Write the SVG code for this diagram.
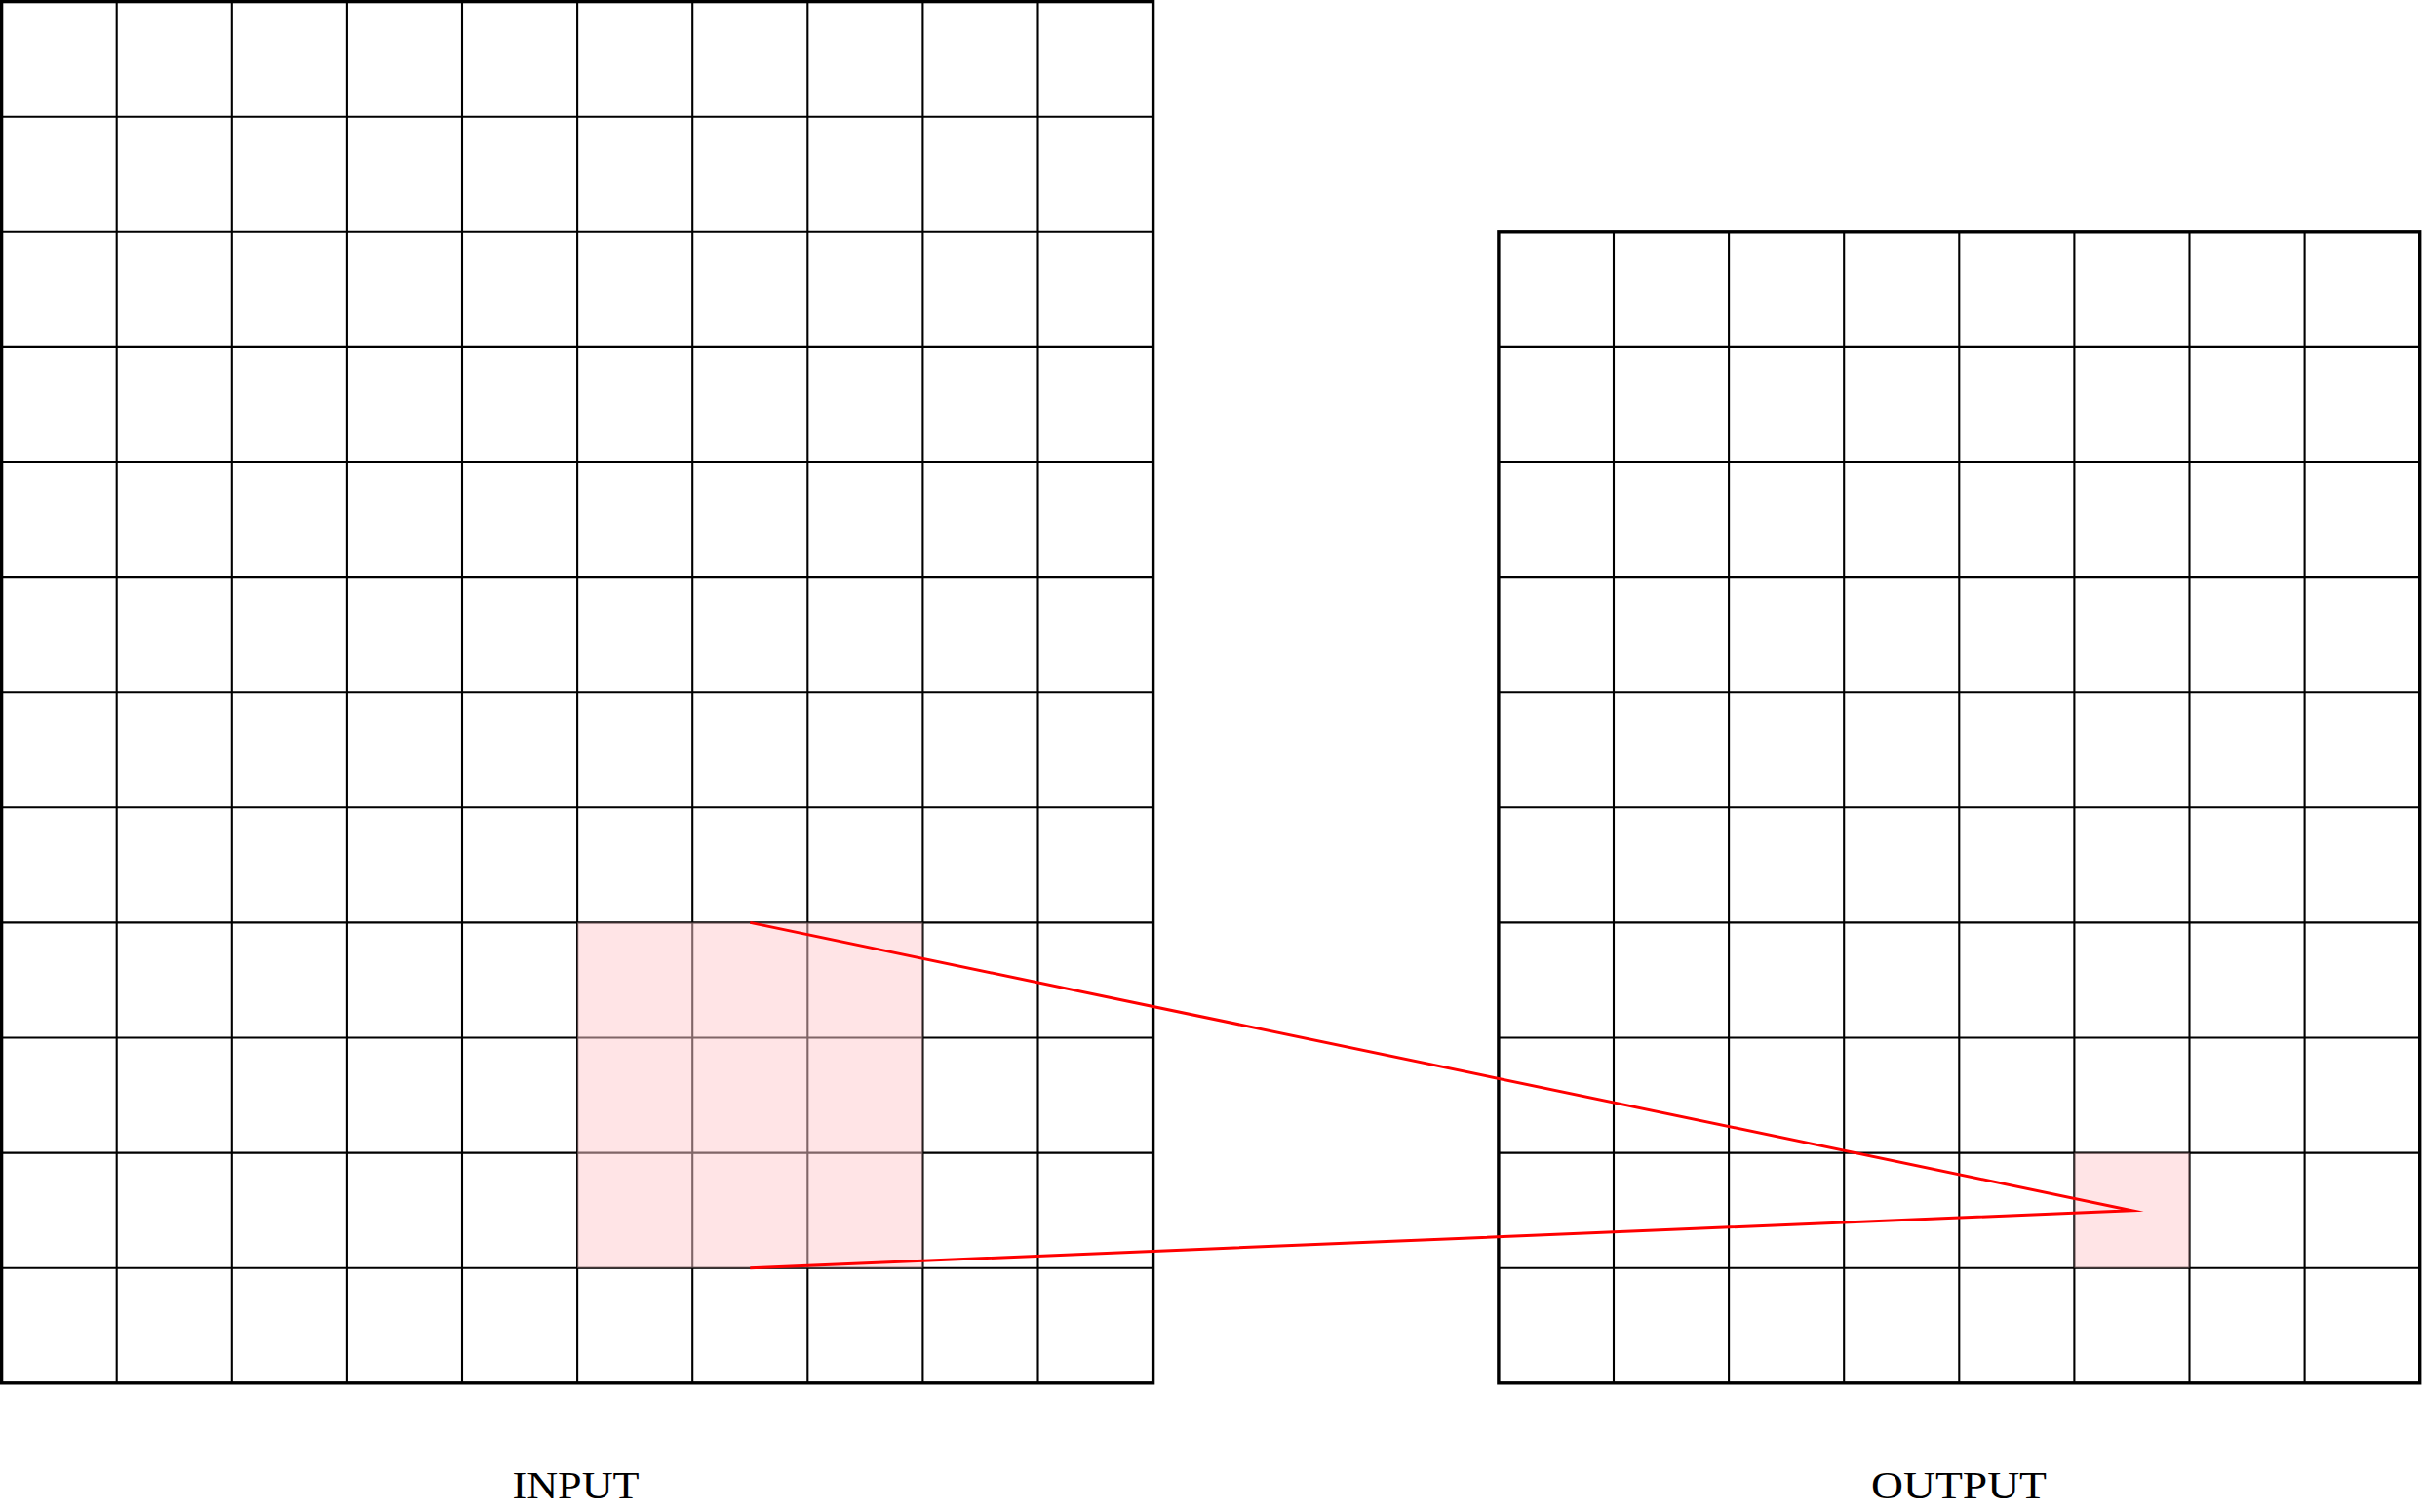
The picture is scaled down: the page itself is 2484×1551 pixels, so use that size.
<svg xmlns="http://www.w3.org/2000/svg" width="2484" height="1551" viewBox="0 0 2484 1551">
  <style>
    .grid { fill: none; stroke: #000; stroke-width: 2.1; }
    .frame { fill: none; stroke: #000; stroke-width: 3.4; }
    .hl { fill: #ffc9cd; fill-opacity: 0.5; stroke: #000; stroke-opacity: 0.25; stroke-width: 2.1; }
    .conn { fill: none; stroke: #ff0000; stroke-width: 3; stroke-linejoin: miter; stroke-miterlimit: 10; }
    .label { font-family: "Liberation Serif", "DejaVu Serif", serif; font-size: 41px; fill: #000; text-anchor: middle; }
  </style>
  <rect x="0" y="0" width="2484" height="1551" fill="#fff"/>

  <g id="input-grid">
    <path class="grid" d="M119.7 1.6V1418.8 M237.8 1.6V1418.8 M355.9 1.6V1418.8 M474 1.6V1418.8 M592.1 1.6V1418.8 M710.2 1.6V1418.8 M828.3 1.6V1418.8 M946.4 1.6V1418.8 M1064.5 1.6V1418.8
      M1.6 119.7H1182.6 M1.6 237.8H1182.6 M1.6 355.9H1182.6 M1.6 474H1182.6 M1.6 592.1H1182.6 M1.6 710.2H1182.6 M1.6 828.3H1182.6 M1.6 946.4H1182.6 M1.6 1064.5H1182.6 M1.6 1182.6H1182.6 M1.6 1300.7H1182.6"/>
    <rect class="frame" x="1.6" y="1.6" width="1181" height="1417.2"/>
  </g>

  <g id="output-grid">
    <path class="grid" d="M1655 237.8V1418.8 M1773.1 237.8V1418.8 M1891.2 237.8V1418.8 M2009.3 237.8V1418.8 M2127.4 237.8V1418.8 M2245.5 237.8V1418.8 M2363.6 237.8V1418.8
      M1536.9 355.9H2481.7 M1536.9 474H2481.7 M1536.9 592.1H2481.7 M1536.9 710.2H2481.7 M1536.9 828.3H2481.7 M1536.9 946.4H2481.7 M1536.9 1064.5H2481.7 M1536.9 1182.6H2481.7 M1536.9 1300.7H2481.7"/>
    <rect class="frame" x="1536.9" y="237.8" width="944.8" height="1181"/>
  </g>

  <g id="input-window">
    <rect class="hl" x="592.1" y="946.4" width="354.3" height="354.3"/>
  </g>
  <g id="output-cell">
    <rect class="hl" x="2127.4" y="1182.6" width="118.1" height="118.1" stroke="none"/>
  </g>

  <g id="connectors">
    <polyline class="conn" points="769.25,946.4 2186.5,1241.7 769.25,1300.7"/>
  </g>

  <g id="labels">
    <text class="label" x="590.5" y="1536.7" textLength="130" lengthAdjust="spacingAndGlyphs">INPUT</text>
    <text class="label" x="2009" y="1536.7" textLength="180" lengthAdjust="spacingAndGlyphs">OUTPUT</text>
  </g>
</svg>
